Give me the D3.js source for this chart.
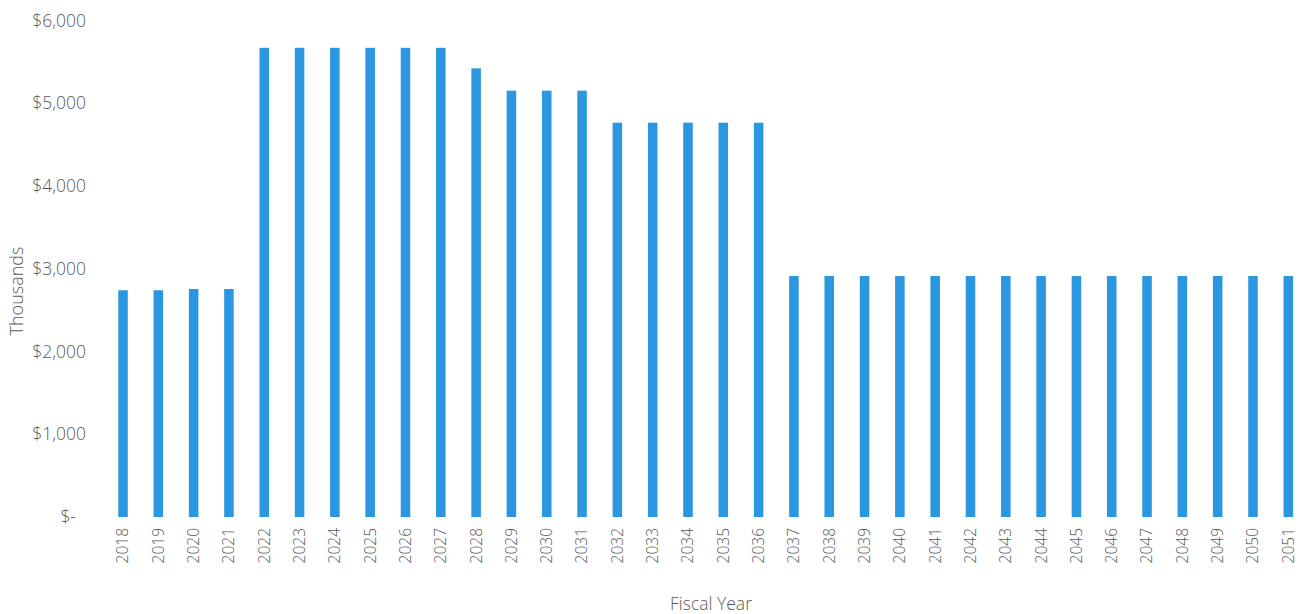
<!DOCTYPE html>
<html>
<head>
<meta charset="utf-8">
<script src="https://cdn.jsdelivr.net/npm/d3@7"></script>
<style>
  html, body { margin: 0; padding: 0; background: #fff; }
  svg { display: block; }
  text { font-family: "Open Sans", Lato, sans-serif; font-weight: 300; fill: #595959; }
</style>
</head>
<body>
<svg id="chart" width="1303" height="614"></svg>
<script>
// Fiscal years shown along the x axis
const years = [
  "2018","2019","2020","2021","2022","2023","2024","2025","2026","2027",
  "2028","2029","2030","2031","2032","2033","2034","2035","2036","2037",
  "2038","2039","2040","2041","2042","2043","2044","2045","2046","2047",
  "2048","2049","2050","2051"
];

// Annual amounts, in thousands of dollars
const amounts = [
  2740, 2740, 2755, 2755, 5670, 5670, 5670, 5670, 5670, 5670,
  5422, 5152, 5152, 5152, 4765, 4765, 4765, 4765, 4765, 2912,
  2912, 2912, 2912, 2912, 2912, 2912, 2912, 2912, 2912, 2912,
  2912, 2912, 2912, 2912
];

// Value-axis ticks
const yTicks = [0, 1000, 2000, 3000, 4000, 5000, 6000];

const svg = d3.select("#chart");

const plot = { left: 105.35, right: 1305.95, top: 20.5, bottom: 517 };

const x = d3.scaleBand()
  .domain(years)
  .range([plot.left, plot.right])
  .paddingInner(0.73)
  .paddingOuter(0.365);

const y = d3.scaleLinear()
  .domain([0, 6000])
  .range([plot.bottom, plot.top]);

// Bars
svg.append("g")
  .selectAll("rect")
  .data(years.map((yr, i) => ({ yr, v: amounts[i] })))
  .join("rect")
  .attr("x", d => x(d.yr))
  .attr("width", x.bandwidth())
  .attr("y", d => y(d.v))
  .attr("height", d => y(0) - y(d.v))
  .attr("fill", "#2a97e0");

// Y axis (labels only, no line)
const fmt = v => v === 0 ? "$-" : "$" + d3.format(",")(v);
const yAxis = svg.append("g")
  .attr("transform", `translate(86,0)`)
  .call(d3.axisLeft(y).tickValues(yTicks).tickFormat(fmt).tickSize(0).tickPadding(0));
yAxis.select(".domain").remove();
yAxis.selectAll("text")
  .style("font-size", "17.5px")
  .style("font-family", "\"Open Sans\", Lato, sans-serif")
  .attr("fill", "#595959");
yAxis.selectAll("text").filter(d => d === 0).attr("dx", "-10");

// X axis (rotated year labels, no line)
const xAxis = svg.append("g")
  .attr("transform", `translate(0,${plot.bottom})`)
  .call(d3.axisBottom(x).tickSize(0).tickPadding(0));
xAxis.select(".domain").remove();
xAxis.selectAll("text")
  .style("font-size", "15.5px")
  .style("font-family", "\"Open Sans\", Lato, sans-serif")
  .attr("fill", "#595959")
  .attr("transform", "rotate(-90)")
  .attr("text-anchor", "end")
  .attr("x", -11)
  .attr("y", 0)
  .attr("dy", "0.35em");

// Axis titles
svg.append("text")
  .attr("transform", "translate(23,291) rotate(-90)")
  .attr("text-anchor", "middle")
  .style("font-size", "18px")
  .text("Thousands");

svg.append("text")
  .attr("x", 711)
  .attr("y", 610)
  .attr("text-anchor", "middle")
  .style("font-size", "17.5px")
  .text("Fiscal Year");
</script>
</body>
</html>
